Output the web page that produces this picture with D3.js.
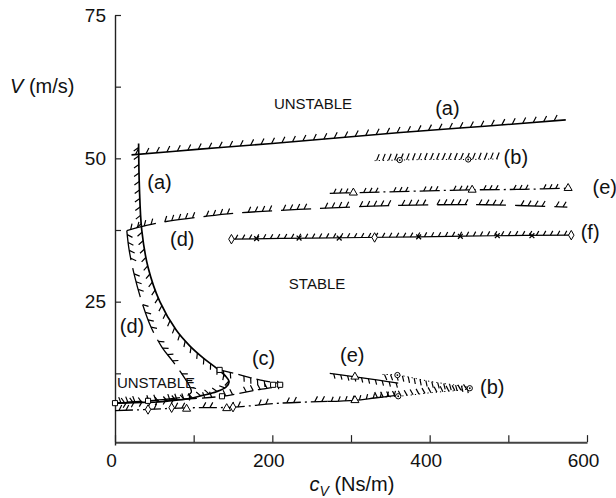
<!DOCTYPE html>
<html>
<head>
<meta charset="utf-8">
<script src="https://cdn.jsdelivr.net/npm/d3@7"></script>
<style>
  body { margin: 0; background: #fff; }
  svg { font-family: "Liberation Sans", Arial, Helvetica, sans-serif; }
</style>
</head>
<body>
<div id="chart"></div>
<script>
// ---- data (c_v in Ns/m, V in m/s) ----
var aTopC = [21, 108, 200, 363, 470, 573]
var aTopV = [50.6, 51.6, 52.6, 54.5, 55.6, 56.7]

var aLeftC = [30, 31, 34, 42, 57, 78, 95, 112, 129, 140, 145, 141, 129, 110, 95, 75, 53, 25, 2]
var aLeftV = [52.6, 45, 37.5, 31, 25, 20, 17.3, 15.2, 13.4, 12.1, 11, 10.1, 9.3, 8.6, 8.1, 7.8, 7.5, 7.4, 7.3]

var dTopC = [15, 40, 70, 116, 160, 250, 363, 470, 575]
var dTopV = [37.4, 38.3, 39.1, 39.9, 40.5, 41.2, 41.8, 41.9, 41.5]

var dLeftC = [15, 18, 25, 34, 46, 60, 74, 86, 95, 97, 90, 72, 50, 25, 5]
var dLeftV = [37.4, 34, 29.4, 25, 20.5, 17, 14.5, 12.2, 10.2, 9.2, 8.5, 8.1, 7.8, 7.5, 7.3]

var eTopC = [273, 303, 360, 454, 520, 578]
var eTopV = [43.9, 44.0, 44.2, 44.5, 44.6, 44.8]
var eTopMarkC = [303, 454, 576]
var eTopMarkV = [44.0, 44.5, 44.8]

var bTopC = [330, 362, 400, 449, 490]
var bTopV = [49.6, 49.7, 49.8, 49.8, 49.9]
var bTopMarkC = [362, 449]
var bTopMarkV = [49.7, 49.8]

var fC = [148, 250, 386, 480, 580]
var fV = [35.9, 36.1, 36.3, 36.5, 36.6]
var fDiamondC = [148, 330, 580]
var fDiamondV = [35.9, 36.2, 36.6]
var fCrossC = [180, 234, 285, 386, 439, 486, 530]
var fCrossV = [36.0, 36.1, 36.1, 36.3, 36.4, 36.5, 36.5]

var cC = [133, 160, 185, 213, 180, 136, 100, 42, 0]
var cV = [13.1, 12.2, 11.3, 10.5, 9.6, 8.5, 8.1, 7.7, 7.3]
var cMarkC = [133, 201, 210, 136, 42, 0]
var cMarkV = [13.1, 10.5, 10.5, 8.5, 7.7, 7.3]

var bLowC = [340, 359, 400, 451, 400, 360, 330]
var bLowV = [12.3, 12.2, 11.1, 9.9, 9.1, 8.5, 8.3]
var bLowMarkC = [359, 451, 360]
var bLowMarkV = [12.2, 9.9, 8.5]

var eLowC = [273, 305, 335, 360]
var eLowV = [12.5, 11.9, 11.3, 10.8]
var eLow2C = [270, 305, 330, 360]
var eLow2V = [7.6, 7.8, 8.2, 8.7]
var eLowMarkC = [305, 305, 91, 142]
var eLowMarkV = [11.9, 7.8, 6.3, 6.4]

var bottomC = [0, 42, 72, 100, 150, 210, 270]
var bottomV = [6.0, 6.2, 6.4, 6.5, 6.6, 7.3, 7.6]
var bottomDiamondC = [42, 72, 150]
var bottomDiamondV = [6.2, 6.5, 6.6]

var xTicks = [0, 100, 200, 300, 400, 500, 600]
var xLabels = [0, 200, 400, 600]
var yTicks = [12.5, 25, 37.5, 50, 62.5, 75]
var yLabels = [25, 50, 75]

var labelText = ["(a)", "(a)", "(d)", "(d)", "(b)", "(e)", "(f)", "(c)", "(e)", "(b)"]
var labelC = [407, 41, 70, 6, 494, 607, 592, 174, 286, 464]
var labelV = [57.6, 44.7, 34.7, 19.5, 49.0, 43.8, 35.9, 14.0, 14.5, 8.9]

var regionText = ["UNSTABLE", "STABLE", "UNSTABLE"]
var regionC = [202, 221, 2.5]
var regionV = [58.6, 27.2, 9.9]

// ---- chart ----
var width = 616, height = 498

var x = d3.scaleLinear().domain([0, 600]).range([115, 587])
var y = d3.scaleLinear().domain([0, 75]).range([445, 15])

var svg = d3.select("#chart").append("svg")
  .attr("width", width)
  .attr("height", height)

var zip = function(cs, vs) { return cs.map(function(c, i) { return {c: c, v: vs[i]} }) }

var line = d3.line()
  .x(function(d) { return x(d.c) })
  .y(function(d) { return y(d.v) })
  .curve(d3.curveCatmullRom.alpha(0.5))

// axes
var xAxis = d3.axisBottom(x).tickValues(xTicks).tickSizeInner(-7).tickSizeOuter(0).tickPadding(11)
  .tickFormat(function(d) { return xLabels.indexOf(d) >= 0 ? d : "" })
var yAxis = d3.axisLeft(y).tickValues(yTicks).tickSizeInner(-6).tickSizeOuter(0).tickPadding(9)
  .tickFormat(function(d) { return yLabels.indexOf(d) >= 0 ? d : "" })

var gx = svg.append("g")
  .attr("transform", "translate(0," + y(0.5) + ")")
  .call(xAxis)
var gy = svg.append("g")
  .attr("transform", "translate(" + x(0) + ",0)")
  .call(yAxis)

;[gx, gy].forEach(function(g) {
  g.selectAll("text").attr("font-size", 19).attr("fill", "#111").attr("font-family", null)
  g.selectAll("line").attr("stroke", "#222").attr("stroke-width", 1.2)
  g.select(".domain").attr("stroke", "#222").attr("stroke-width", 1.4)
})
gx.select(".domain").attr("stroke", "#444").attr("stroke-width", 2)
gx.selectAll(".tick text").attr("dx", -4)

// axis titles
var yt = svg.append("text").attr("x", 10).attr("y", 93).attr("font-size", 20).attr("fill", "#111")
yt.append("tspan").attr("font-style", "italic").text("V")
yt.append("tspan").text(" (m/s)")

var xt = svg.append("text").attr("x", 352).attr("y", 491).attr("font-size", 20)
  .attr("text-anchor", "middle").attr("fill", "#111")
xt.append("tspan").attr("font-style", "italic").text("c")
xt.append("tspan").attr("font-style", "italic").attr("font-size", 14).attr("dy", 5).text("V")
xt.append("tspan").attr("dy", -5).text(" (Ns/m)")

var plot = svg.append("g")

// draws a boundary with short slanted hatch ticks on one side
function boundary(cs, vs, opt) {
  var path = plot.append("path")
    .datum(zip(cs, vs))
    .attr("d", line)
    .attr("fill", "none")
    .attr("stroke", "#000")
    .attr("stroke-width", opt.width || 1.3)
    .attr("stroke-dasharray", opt.dash ? opt.dash.join(",") : null)
  if (opt.noLine) path.attr("stroke-dasharray", "1.2,3").attr("stroke-width", 1)

  var node = path.node(), L = node.getTotalLength()
  var period = opt.dash ? d3.sum(opt.dash) : 0
  var step = opt.step || 10, len = opt.len || 6, slant = opt.slant == null ? 0.5 : opt.slant
  var segs = []
  for (var s = opt.start || 4; s < L - 2; s += step) {
    if (period && (s % period) > opt.dash[0] - 1) continue
    var p = node.getPointAtLength(s)
    var p0 = node.getPointAtLength(Math.max(0, s - 1.5))
    var p1 = node.getPointAtLength(Math.min(L, s + 1.5))
    var tx = p1.x - p0.x, ty = p1.y - p0.y, m = Math.hypot(tx, ty) || 1
    tx /= m; ty /= m
    var nx = ty * opt.side, ny = -tx * opt.side
    var ex = p.x + len * (nx * Math.cos(slant) + tx * Math.sin(slant))
    var ey = p.y + len * (ny * Math.cos(slant) + ty * Math.sin(slant))
    segs.push("M" + p.x.toFixed(1) + "," + p.y.toFixed(1) + "L" + ex.toFixed(1) + "," + ey.toFixed(1))
  }
  plot.append("path")
    .attr("d", segs.join(""))
    .attr("fill", "none")
    .attr("stroke", "#000")
    .attr("stroke-width", opt.hatchWidth || 1.2)
}

function markers(cs, vs, type, size) {
  var g = plot.selectAll(null)
    .data(zip(cs, vs))
    .enter().append("g")
    .attr("transform", function(d) { return "translate(" + x(d.c) + "," + y(d.v) + ")" })
  if (type === "x") {
    g.append("path")
      .attr("d", "M-2.4,-2.4L2.4,2.4M-2.4,2.4L2.4,-2.4")
      .attr("stroke", "#000").attr("stroke-width", 1.3)
    return
  }
  g.append("path")
    .attr("d", d3.symbol().type(
      type === "tri" ? d3.symbolTriangle :
      type === "sq" ? d3.symbolSquare :
      type === "dia" ? d3.symbolDiamond : d3.symbolCircle).size(size))
    .attr("fill", "#fff")
    .attr("stroke", "#000")
    .attr("stroke-width", 1)
  if (type === "circle") g.append("circle").attr("r", 0.9).attr("fill", "#000")
}

// (a)
boundary(aTopC, aTopV, {side: 1, width: 1.6, step: 10.5, len: 6.5, slant: 0.55})
boundary(aLeftC, aLeftV, {side: -1, width: 1.7, step: 8.5, len: 6, slant: 0.6})
// (d)
boundary(dTopC, dTopV, {side: 1, dash: [30, 9], step: 7, len: 6, slant: 0.5})
boundary(dLeftC, dLeftV, {side: 1, dash: [30, 8], step: 8, len: 6, slant: 0.6})
// (e)
boundary(eTopC, eTopV, {side: 1, dash: [20, 4, 2, 4], step: 6, len: 5, slant: 0.5})
boundary(eLowC, eLowV, {side: -1, step: 7, len: 5, slant: 0.4})
boundary(eLow2C, eLow2V, {side: 1, step: 7, len: 5, slant: 0.4})
// (b)
boundary(bTopC, bTopV, {side: 1, noLine: true, step: 6, len: 7, slant: 0.4, start: 2})
boundary(bLowC, bLowV, {side: -1, noLine: true, step: 6, len: 6, slant: 0.4, start: 2})
// (f)
boundary(fC, fV, {side: 1, step: 7, len: 5, slant: 0.5, width: 1.2})
// (c)
boundary(cC, cV, {side: -1, dash: [14, 5], step: 7, len: 6, slant: 0.3})
// lower boundary
boundary(bottomC, bottomV, {side: 1, dash: [18, 4, 2, 4], step: 7, len: 6, slant: 0.5})

markers(eTopMarkC, eTopMarkV, "tri", 28)
markers(eLowMarkC, eLowMarkV, "tri", 28)
markers(bTopMarkC, bTopMarkV, "circle", 22)
markers(bLowMarkC, bLowMarkV, "circle", 22)
markers(fDiamondC, fDiamondV, "dia", 26)
markers(bottomDiamondC, bottomDiamondV, "dia", 26)
markers(fCrossC, fCrossV, "x")
markers(cMarkC, cMarkV, "sq", 26)

// curve labels
svg.append("g").selectAll("text")
  .data(labelText).enter().append("text")
  .attr("x", function(d, i) { return x(labelC[i]) })
  .attr("y", function(d, i) { return y(labelV[i]) })
  .attr("font-size", 20).attr("fill", "#111")
  .text(function(d) { return d })

svg.append("g").selectAll("text")
  .data(regionText).enter().append("text")
  .attr("x", function(d, i) { return x(regionC[i]) })
  .attr("y", function(d, i) { return y(regionV[i]) })
  .attr("font-size", 15).attr("fill", "#111")
  .text(function(d) { return d })
</script>
</body>
</html>
